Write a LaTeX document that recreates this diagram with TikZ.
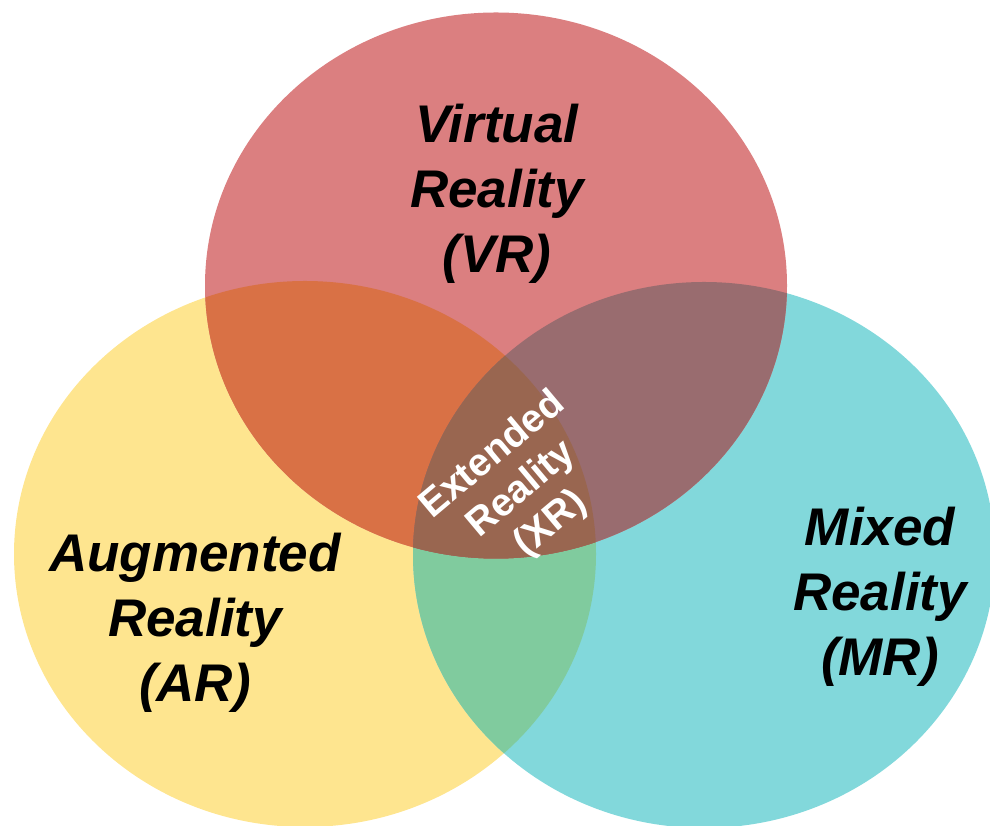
\documentclass[tikz,border=0pt]{standalone}
\usepackage{fontspec}
\setmainfont{Liberation Sans}
\definecolor{cR}{HTML}{DB7F80}
\definecolor{cY}{HTML}{FEE58F}
\definecolor{cT}{HTML}{82D8DB}
\definecolor{cRY}{HTML}{D97145}
\definecolor{cRT}{HTML}{996C6F}
\definecolor{cYT}{HTML}{80CB9E}
\definecolor{cRYT}{HTML}{996650}
\tikzset{
  bigtxt/.style={align=center, font=\fontsize{53}{65}\selectfont\bfseries\itshape, text=black, inner sep=0pt},
  xrtxt/.style={align=center, font=\fontsize{39}{45}\selectfont\bfseries, text=white, inner sep=0pt}
}
\begin{document}
\begin{tikzpicture}[x=1pt,y=1pt]
\useasboundingbox (0,0) rectangle (990,826);
\def\rx{291}\def\ry{273}
\coordinate (R) at (496,540.5);
\coordinate (Y) at (305,272);
\coordinate (T) at (704,271);
\fill[cY] (Y) ellipse [x radius=\rx, y radius=\ry];
\fill[cT] (T) ellipse [x radius=\rx, y radius=\ry];
\fill[cR] (R) ellipse [x radius=\rx, y radius=\ry];
\begin{scope}
  \clip (Y) ellipse [x radius=\rx, y radius=\ry];
  \fill[cYT] (T) ellipse [x radius=\rx, y radius=\ry];
  \fill[cRY] (R) ellipse [x radius=\rx, y radius=\ry];
  \clip (T) ellipse [x radius=\rx, y radius=\ry];
  \fill[cRYT] (R) ellipse [x radius=\rx, y radius=\ry];
\end{scope}
\begin{scope}
  \clip (T) ellipse [x radius=\rx, y radius=\ry];
  \clip (R) ellipse [x radius=\rx, y radius=\ry];
  \fill[cRT] (T) ellipse [x radius=\rx, y radius=\ry];
  \clip (Y) ellipse [x radius=\rx, y radius=\ry];
  \fill[cRYT] (T) ellipse [x radius=\rx, y radius=\ry];
\end{scope}
\node[bigtxt] (vr) at (497,632) {Virtual\\Reality\\(VR)};
\node[bigtxt] (ar) at (195,203) {Augmented\\Reality\\(AR)};
\node[bigtxt] (mr) at (880,229) {Mixed\\Reality\\(MR)};
\node[xrtxt, rotate=40] (xr) at (522,336) {Extended\\Reality\\(XR)};
\end{tikzpicture}
\end{document}
